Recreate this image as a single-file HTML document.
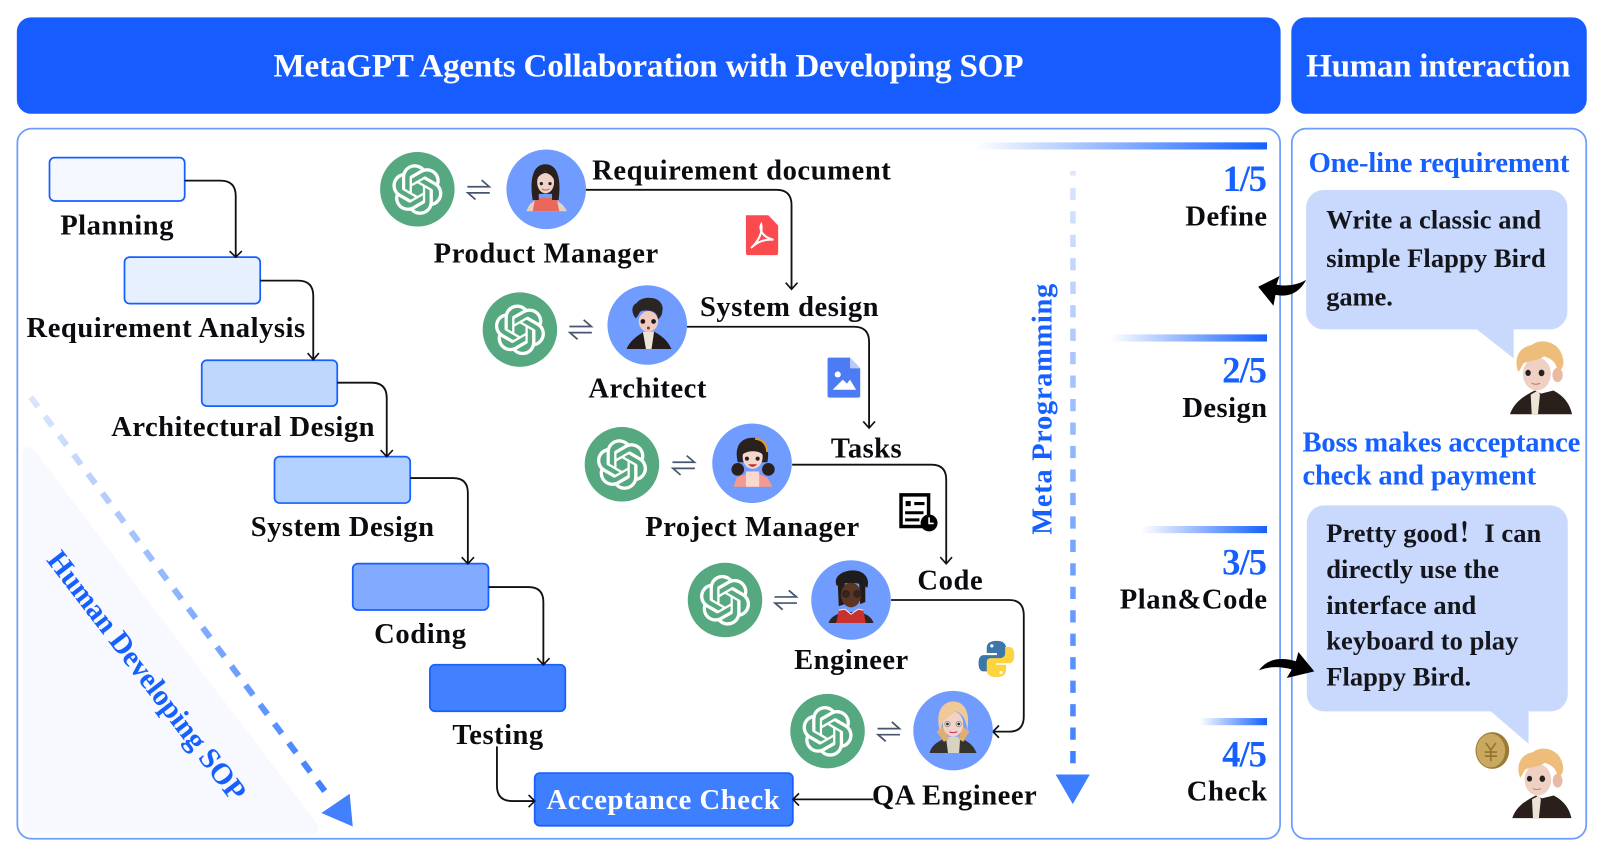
<!DOCTYPE html>
<html lang="en"><head><meta charset="utf-8"><title>MetaGPT Agents Collaboration</title>
<style>
html,body{margin:0;padding:0;background:#fff;width:1600px;height:854px;overflow:hidden}
svg{display:block}
text{font-family:"Liberation Serif","Noto Serif CJK SC",serif;font-weight:bold;font-size:28px;fill:#0c0c10}
.w{fill:#fff}.b{fill:#1560ff}.t{font-size:32.5px}.n{font-size:36px;font-weight:bold}.s{font-size:26px;fill:#14161c}
.c{fill:none;stroke:#111;stroke-width:1.8}
.ah{fill:none;stroke:#111;stroke-width:1.6}
</style></head><body>
<svg xmlns="http://www.w3.org/2000/svg" width="1600" height="854" viewBox="0 0 1568 836.92">
<defs>
<linearGradient id="bar"><stop offset="0" stop-color="#fff"/><stop offset="1" stop-color="#1560ff"/></linearGradient>
<linearGradient id="vd" gradientUnits="userSpaceOnUse" x1="0" y1="167" x2="0" y2="750"><stop offset="0" stop-color="#dce7fd"/><stop offset="1" stop-color="#3d7fff"/></linearGradient>
<linearGradient id="dd" gradientUnits="userSpaceOnUse" x1="30" y1="389" x2="321" y2="779"><stop offset="0" stop-color="#dce7fd"/><stop offset="1" stop-color="#3d7fff"/></linearGradient>
<symbol id="gpt" viewBox="-36.5 -36.5 73 73" overflow="visible">
<circle r="36.5" fill="#55a880"/>
<path transform="translate(-24.8,-24.6) scale(2.07)" fill="#fff" d="M22.2819 9.8211a5.9847 5.9847 0 0 0-.5157-4.9108 6.0462 6.0462 0 0 0-6.5098-2.9A6.0651 6.0651 0 0 0 4.9807 4.1818a5.9847 5.9847 0 0 0-3.9977 2.9 6.0462 6.0462 0 0 0 .7427 7.0966 5.98 5.98 0 0 0 .511 4.9107 6.051 6.051 0 0 0 6.5146 2.9001A5.9847 5.9847 0 0 0 13.2599 24a6.0557 6.0557 0 0 0 5.7718-4.2058 5.9894 5.9894 0 0 0 3.9977-2.9001 6.0557 6.0557 0 0 0-.7475-7.0729zm-9.022 12.6081a4.4755 4.4755 0 0 1-2.8764-1.0408l.1419-.0804 4.7783-2.7582a.7948.7948 0 0 0 .3927-.6813v-6.7369l2.02 1.1686a.071.071 0 0 1 .038.052v5.5826a4.504 4.504 0 0 1-4.4945 4.4944zm-9.6607-4.1254a4.4708 4.4708 0 0 1-.5346-3.0137l.142.0852 4.783 2.7582a.7712.7712 0 0 0 .7806 0l5.8428-3.3685v2.3324a.0804.0804 0 0 1-.0332.0615L9.74 19.9502a4.4992 4.4992 0 0 1-6.1408-1.6464zM2.3408 7.8956a4.485 4.485 0 0 1 2.3655-1.9728V11.6a.7664.7664 0 0 0 .3879.6765l5.8144 3.3543-2.0201 1.1685a.0757.0757 0 0 1-.071 0l-4.8303-2.7865A4.504 4.504 0 0 1 2.3408 7.872zm16.5963 3.8558L13.1038 8.364 15.1192 7.2a.0757.0757 0 0 1 .071 0l4.8303 2.7913a4.4944 4.4944 0 0 1-.6765 8.1042v-5.6772a.79.79 0 0 0-.407-.667zm2.0107-3.0231l-.142-.0852-4.7735-2.7818a.7759.7759 0 0 0-.7854 0L9.409 9.2297V6.8974a.0662.0662 0 0 1 .0284-.0615l4.8303-2.7866a4.4992 4.4992 0 0 1 6.6802 4.66zM8.3065 12.863l-2.02-1.1638a.0804.0804 0 0 1-.038-.0567V6.0742a4.4992 4.4992 0 0 1 7.3757-3.4537l-.142.0805L8.704 5.459a.7948.7948 0 0 0-.3927.6813zm1.0976-2.3654l2.602-1.4998 2.6069 1.4998v2.9994l-2.5974 1.4997-2.6067-1.4997Z"/>
</symbol>
<symbol id="swap" viewBox="0 0 22 20" overflow="visible">
<path d="M0 7H21.5L14 0.5M22 13H0.5L8 19.5" fill="none" stroke="#46566e" stroke-width="1.7"/>
</symbol>
<symbol id="boy" viewBox="0 0 60 72" overflow="visible">
<path d="M0 72C4 60 14 54 24 49L30 52L42 49C52 54 58 62 60 72Z" fill="#2a1f1a"/>
<path d="M20 53L27 49L29 53L27 72H21Z" fill="#ece4d4"/>
<ellipse cx="46" cy="34" rx="5" ry="7" fill="#e8b9a5"/>
<ellipse cx="26" cy="33" rx="13.5" ry="16" fill="#efd0c2"/>
<path d="M8 31C3 18 9 7 21 5C30 -2 46 2 50 14C54 24 50 30 46 30C45 22 40 18 33 16C25 21 17 20 13 23C11 26 10 29 8 31Z" fill="#eebd7c"/>
<ellipse cx="17.5" cy="32" rx="2.6" ry="3" fill="#222"/><ellipse cx="30.5" cy="32" rx="2.8" ry="3.2" fill="#222"/>
<path d="M21 42Q25 44 29 42" stroke="#b57c72" fill="none"/>
</symbol>
</defs>

<!-- headers -->
<rect x="16.5" y="17" width="1238.5" height="94.5" rx="14" fill="#175cff"/>
<rect x="1265.5" y="17" width="289.5" height="94.5" rx="14" fill="#175cff"/>
<text class="w t" x="268" y="75" textLength="735">MetaGPT Agents Collaboration with Developing SOP</text>
<text class="w t" x="1280" y="75" textLength="259">Human interaction</text>

<!-- panels -->
<rect x="17" y="126" width="1237.5" height="696" rx="14" fill="#fff" stroke="#6e9dfb" stroke-width="1.7"/>
<rect x="1266" y="126" width="288.5" height="696" rx="14" fill="#fff" stroke="#6e9dfb" stroke-width="1.7"/>

<!-- left triangle -->
<polygon points="28,444 306,811 28,811" fill="#f7f9ff" stroke="#f7f9ff" stroke-width="12" stroke-linejoin="round"/>
<line x1="30" y1="389" x2="321" y2="779" stroke="url(#dd)" stroke-width="6" stroke-dasharray="12 11.5"/>
<polygon points="342.7,777.9 315,796.8 345.7,810" fill="#4380fd"/>
<text class="b" transform="translate(45,549) rotate(52.5)" font-size="29" style="font-size:29px" textLength="300">Human Developing SOP</text>

<!-- SOP boxes -->
<g stroke="#1560ff" stroke-width="1.7">
<rect x="48.5" y="154.5" width="132.5" height="42.5" rx="5" fill="#f5f9ff"/>
<rect x="122" y="252" width="133" height="45.5" rx="5" fill="#e6f0ff"/>
<rect x="197.7" y="353" width="132.8" height="45" rx="5" fill="#bfd7fd"/>
<rect x="269" y="447.5" width="133" height="45.5" rx="5" fill="#b3d2ff"/>
<rect x="345.7" y="552.4" width="133" height="45.4" rx="5" fill="#82aaff"/>
<rect x="421.3" y="651.4" width="132.7" height="45.6" rx="5" fill="#4280ff"/>
<rect x="524" y="757.6" width="253" height="51.6" rx="5" fill="#3d7fff"/>
</g>

<!-- connectors -->
<path class="c" d="M181 177H216Q231 177 231 192V251"/>
<path class="c" d="M255 275H292Q307 275 307 290V352"/>
<path class="c" d="M330.5 375H364Q379 375 379 390V447"/>
<path class="c" d="M402 468.5H444Q458.5 468.5 458.5 483V552"/>
<path class="c" d="M478.7 575.3H518Q532.5 575.3 532.5 590V651"/>
<path class="c" d="M487 731.5V770Q487 785 502 785H523"/>
<path class="c" d="M856 783.4H778"/>
<path class="c" d="M574 186H761Q775.7 186 775.7 201V283"/>
<path class="c" d="M673.3 320.2H837Q851.7 320.2 851.7 335V419"/>
<path class="c" d="M776.3 455.4H913Q927.3 455.4 927.3 470V552"/>
<path class="c" d="M873.3 588H989Q1003.3 588 1003.3 603V702Q1003.3 717 989 717H974"/>
<g class="ah">
<path d="M225 246L231 252L237 246"/>
<path d="M301.5 346L307 352.5L312.5 346"/>
<path d="M373 441L379 447.5L385 441"/>
<path d="M452.5 546L458.5 552.5L464.5 546"/>
<path d="M526.5 645L532.5 651.5L538.5 645"/>
<path d="M518 779L524 785L518 791"/>
<path d="M783 777.5L777 783.4L783 789.5"/>
<path d="M770 277L775.7 283.5L781.5 277"/>
<path d="M846 413L851.7 419.5L857.5 413"/>
<path d="M921.5 546L927.3 552.5L933 546"/>
<path d="M979 711L973 717L979 723"/>
</g>

<!-- GPT circles -->
<use href="#gpt" x="372.5" y="149" width="73" height="73"/>
<use href="#gpt" x="473" y="286.5" width="73" height="73"/>
<use href="#gpt" x="573" y="418.5" width="73" height="73"/>
<use href="#gpt" x="674" y="551.5" width="73" height="73"/>
<use href="#gpt" x="774.5" y="680" width="73" height="73"/>
<use href="#swap" x="458" y="176" width="22" height="20"/>
<use href="#swap" x="558" y="313" width="22" height="20"/>
<use href="#swap" x="659" y="446" width="22" height="20"/>
<use href="#swap" x="759" y="578" width="22" height="20"/>
<use href="#swap" x="860" y="707" width="22" height="20"/>

<!-- role circles -->
<g fill="#709cff">
<circle cx="535.3" cy="185.5" r="39"/>
<circle cx="634.3" cy="318.5" r="39"/>
<circle cx="737" cy="454" r="39"/>
<circle cx="834" cy="588" r="39"/>
<circle cx="934" cy="716" r="39"/>
</g>

<!-- PM avatar -->
<path d="M516 207C518 200 522 197 528 195H541C548 197 553 201 555.5 207Z" fill="#e8cfc2"/>
<path d="M522 207L524.5 194H545.5L548 207Z" fill="#e8695c"/>
<path d="M522 196C519 176 522 161 534.5 161C547 161 550 176 547.5 196H541V190H528V196Z" fill="#2a211f"/>
<ellipse cx="534.7" cy="178.5" rx="8.3" ry="11" fill="#f0d2c6"/>
<path d="M526 176C526 168 531 165 534.5 168C538 165 543 168 543 176C541 172 538 170 534.5 169.5C531 170 528 172 526 176Z" fill="#2a211f"/>
<circle cx="530.5" cy="180" r="1.6" fill="#222"/><circle cx="539" cy="180" r="1.6" fill="#222"/>
<path d="M531 185Q534.7 187.5 538.5 185" stroke="#b06a60" fill="none"/>

<!-- Architect avatar -->
<path d="M614 342C618 333 625 329 631 325H641C648 329 654 333 658 342Z" fill="#231c1a"/>
<path d="M630 325H641L638.5 342H633Z" fill="#ece6d8"/>
<ellipse cx="635.4" cy="315" rx="9.5" ry="10.2" fill="#f0cbc0"/>
<path d="M623 312C618 306 619 299 624 297C626 293 634 291 638 292C645 292 651 298 649 305C649 309 647 311 645 313C644 308 642 306 639 305C633 304 629 304 627 306C626 308 625 310 623 312Z" fill="#2b2624"/>
<circle cx="630" cy="315" r="2.3" fill="#1c1718"/><circle cx="640.5" cy="315" r="2.3" fill="#1c1718"/>
<circle cx="635.4" cy="321.5" r="1.5" fill="#8f3b3b"/>

<!-- Project manager avatar -->
<circle cx="723" cy="460" r="6.2" fill="#2a201e"/><circle cx="753" cy="460" r="6.2" fill="#2a201e"/>
<path d="M719 477L722 468L730 465H745L752 468L757 477Z" fill="#f59a8c"/>
<path d="M731 477V462H744V477Z" fill="#f8d8cf"/>
<path d="M723 453C719 436 727 429 738 429C749 429 755 438 752 453Z" fill="#2a201e"/>
<ellipse cx="737.6" cy="448" rx="9.8" ry="11.5" fill="#f5d6ca"/>
<path d="M727 446C729 438 735 436 738 436C742 436 747 439 748 446C744 441 732 441 727 446Z" fill="#2a201e"/>
<path d="M740 430Q751 431 752 443" stroke="#e49a2f" stroke-width="2" fill="none"/>
<circle cx="732" cy="449.5" r="2" fill="#222"/><circle cx="742.5" cy="449.5" r="2" fill="#222"/>
<path d="M733 455Q737.6 460 742 455Z" fill="#b33"/>

<!-- Engineer avatar -->
<path d="M812 610.5C814 604 820 602 826 600H843C849 602 854 604 856 610.5Z" fill="#2a2625"/>
<path d="M819.5 610.5L822 598L828 597L834 602L841 597L846 598L848.5 610.5Z" fill="#c9302e"/>
<path d="M822 598L828 597L834 602L841 597L846 598" stroke="#eee" fill="none"/>
<path d="M821 572H828V592L822 594ZM842 572H848V590L843 592Z" fill="#241c1a"/>
<ellipse cx="834" cy="583" rx="9.8" ry="12.2" fill="#5d3524"/>
<path d="M820 574C816 565 826 559 836 559C846 559 853 566 850 576C842 570 830 570 820 574Z" fill="#1f1c1c"/>
<circle cx="829" cy="582" r="3.2" fill="#3d2418" stroke="#222"/><circle cx="840" cy="582" r="3.2" fill="#3d2418" stroke="#222"/>

<!-- QA avatar -->
<path d="M911 738C913 730 919 727 927 723H941C949 727 954 730 957 738Z" fill="#35312b"/>
<path d="M927 722H941L940 738H929Z" fill="#d8d2c0"/>
<path d="M918 717L924 712L930 724L925 727ZM950 717L944 712L939 724L944 727Z" fill="#dfae70"/>
<ellipse cx="934" cy="709.5" rx="10" ry="12.5" fill="#f3d2c4"/>
<path d="M921 716C916 696 925 687.5 934 687.5C945 687.5 951 697 948 716C947 706 944 700 937 697C933 700 926 704 924 708C923 711 922 714 921 716Z" fill="#f1c997"/>
<circle cx="928.5" cy="709.5" r="2.6" fill="#eee" stroke="#777" stroke-width=".7"/><circle cx="939.5" cy="709.5" r="2.6" fill="#eee" stroke="#777" stroke-width=".7"/>
<circle cx="928.5" cy="709.5" r="1.3" fill="#222"/><circle cx="939.5" cy="709.5" r="1.3" fill="#222"/>
<path d="M930.5 717Q934 719 938 717" stroke="#c27" fill="none"/>

<!-- doc icons -->
<path d="M731 211H753L762.6 221V248Q762.6 250 760.6 250H733Q731 250 731 248Z" fill="#fb4b4f"/>
<path d="M736 243C742 238 748 228 746 220C744 224 746 232 758 235C750 234 742 237 736 243Z" fill="none" stroke="#fff" stroke-width="2"/>
<path d="M811 352Q811 350.5 813 350.5H833L843 361V388Q843 389.7 841 389.7H813Q811 389.7 811 388Z" fill="#4c7bf3"/>
<path d="M833 350.5L843 361H833Z" fill="#b9cbfa"/>
<circle cx="821" cy="367" r="3" fill="#fff"/><path d="M816 382L826 372L830 376L833 372L839 382Z" fill="#fff"/>
<g>
<path d="M883 485H910V516H883Z" fill="#fff" stroke="#000" stroke-width="3.4"/>
<path d="M887.5 491H892.5V496H887.5ZM896 492H906V495H896ZM887 501H905V504H887ZM887 508H901V511H887Z" fill="#000"/>
<circle cx="910.5" cy="512.5" r="8.3" fill="#000"/><path d="M910.5 507V513H915" stroke="#fff" stroke-width="1.6" fill="none"/>
</g>
<path d="M977 628C968 628 967 632 967 636V640H977V642H964C960 642 959 646 959 650C959 654 960 658 964 658H968V652C968 649 970 647 973 647H982C985 647 986 645 986 643V635C986 631 983 628 977 628Z" fill="#3d76a9"/>
<path d="M976 663.5C985 663.5 986 659.5 986 655.5V651.5H976V650H989C993 650 994 646 994 642C994 638 993 634 989 634H985V640C985 643 983 645 980 645H971C968 645 967 647 967 649V657C967 661 970 663.5 976 663.5Z" fill="#fdd33f"/>
<circle cx="972" cy="633" r="1.6" fill="#fff"/><circle cx="981" cy="659" r="1.6" fill="#fff"/>

<!-- labels -->
<text x="59" y="230" textLength="111">Planning</text>
<text x="26" y="330.5" textLength="273">Requirement Analysis</text>
<text x="109" y="427.5" textLength="258">Architectural Design</text>
<text x="245.7" y="525.3" textLength="179.6">System Design</text>
<text x="366.7" y="630" textLength="90">Coding</text>
<text x="443.3" y="729" textLength="89">Testing</text>
<text x="425" y="257.4" textLength="220">Product Manager</text>
<text x="580.3" y="175.8" textLength="292.7">Requirement document</text>
<text x="686" y="309.7" textLength="175">System design</text>
<text x="576.6" y="389.4" textLength="115.7">Architect</text>
<text x="814.3" y="448.2" textLength="69.3">Tasks</text>
<text x="632.3" y="525.3" textLength="209.7">Project Manager</text>
<text x="899" y="577.6" textLength="64">Code</text>
<text x="778.3" y="655.4" textLength="111.7">Engineer</text>
<text x="854.6" y="788.6" textLength="161.4">QA Engineer</text>
<text class="w" x="535.6" y="792.6" textLength="228.4">Acceptance Check</text>

<!-- meta programming -->
<rect x="1048.8" y="167.6" width="5.4" height="4.5" fill="#dce7fd"/>
<line x1="1051.5" y1="184" x2="1051.5" y2="748" stroke="url(#vd)" stroke-width="5.4" stroke-dasharray="12 11"/>
<polygon points="1034.5,759 1068,759 1051.3,788" fill="#3d7fff"/>
<text class="b" transform="translate(1030.6,524) rotate(-90)" textLength="246">Meta Programming</text>

<!-- stage bars -->
<rect x="955" y="139.5" width="286.7" height="7" fill="url(#bar)"/>
<rect x="1088" y="327.7" width="153.7" height="7" fill="url(#bar)"/>
<rect x="1118" y="515.5" width="123.7" height="7" fill="url(#bar)"/>
<rect x="1175" y="703.7" width="66.7" height="7" fill="url(#bar)"/>

<text class="b n" x="1198.2" y="187" textLength="43.5">1/5</text>
<text x="1161.7" y="221" textLength="80">Define</text>
<text class="b n" x="1197.7" y="375" textLength="44">2/5</text>
<text x="1158.7" y="408.5" textLength="83">Design</text>
<text class="b n" x="1197.7" y="563" textLength="44">3/5</text>
<text x="1097.4" y="596.5" textLength="144.3">Plan&amp;Code</text>
<text class="b n" x="1197.7" y="751" textLength="44">4/5</text>
<text x="1163" y="784.5" textLength="78.7">Check</text>

<!-- human panel -->
<text class="b" x="1282.4" y="168.8" textLength="255.6">One-line requirement</text>
<rect x="1280" y="186.2" width="256" height="136.6" rx="17" fill="#c8d9fd"/>
<polygon points="1446.4,322 1483.4,322 1483.4,351.2" fill="#c8d9fd"/>
<text class="s" x="1299.7" y="223.8" textLength="210.6">Write a classic and</text>
<text class="s" x="1299.7" y="261.8" textLength="215.1">simple Flappy Bird</text>
<text class="s" x="1299.7" y="299.5" textLength="65.3">game.</text>
<use href="#boy" x="1479.7" y="333" width="61" height="73"/>

<text class="b" x="1276.4" y="442.6" textLength="272.3">Boss makes acceptance</text>
<text class="b" x="1276.4" y="474.6" textLength="229">check and payment</text>
<rect x="1280.7" y="495.3" width="255.7" height="201.9" rx="17" fill="#c8d9fd"/>
<polygon points="1459.7,696 1498,696 1498,728.9" fill="#c8d9fd"/>
<text class="s" x="1299.7" y="531.2" textLength="210.7">Pretty good！I can</text>
<text class="s" x="1299.7" y="566.2" textLength="169.3">directly use the</text>
<text class="s" x="1299.7" y="601.5" textLength="147">interface and</text>
<text class="s" x="1299.7" y="636.4" textLength="188.3">keyboard to play</text>
<text class="s" x="1299.7" y="671.7" textLength="142">Flappy Bird.</text>
<ellipse cx="1462.5" cy="735.5" rx="16.5" ry="18" fill="#9a7a35"/>
<ellipse cx="1461" cy="735.5" rx="14" ry="16.5" fill="#c9a860"/>
<path d="M1456 728L1461 735L1466 728M1461 735V746M1455 737H1467M1455 741H1467" stroke="#94742f" stroke-width="1.6" fill="none"/>
<use href="#boy" x="1482" y="732" width="58" height="70"/>

<!-- curved arrows -->
<path d="M1233 281L1254 270.5L1251 279Q1266 282 1280 274.4Q1270 293 1250 289L1248 299.6Z" fill="#000"/>
<path d="M1233.7 657Q1245 641 1270 648L1272.4 639L1288 658L1261 664.5L1266 656Q1248 651 1233.7 657Z" fill="#000"/>
</svg>
</body></html>
